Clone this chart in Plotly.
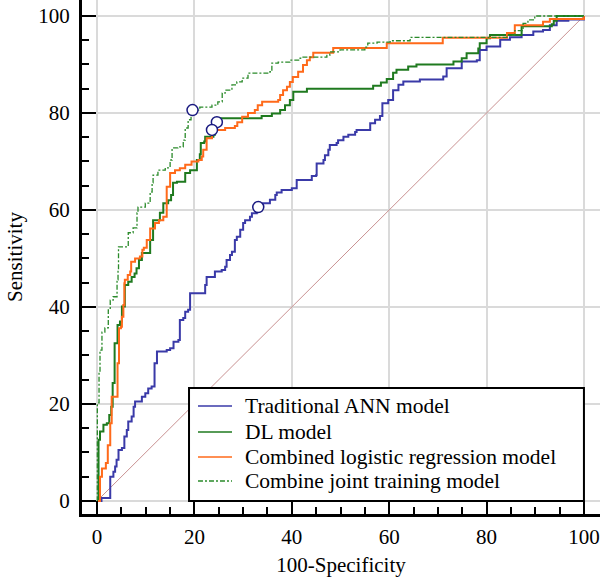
import plotly.graph_objects as go

# ---- data ----
ann_x = [0, 0.9, 2.7, 3.35, 3.7, 4.0, 4.4, 5.1, 5.6, 6.1, 6.4, 7.1, 7.5, 7.8, 9.2, 9.9, 10.5, 11.2, 11.8, 12.3,
         14.3, 15.0, 15.7, 16.7, 17.0, 17.7, 18.1, 18.7, 19.1, 22.2, 22.5, 24.2, 25.6, 26.3, 26.6, 27.3, 27.7,
         28.3, 28.7, 29.4, 30.0, 30.4, 31.4, 31.8, 32.8, 33.1, 34.1, 35.5, 36.6, 36.9, 37.9, 40.0, 41.0, 44.1,
         45.0, 45.1, 46.5, 46.8, 47.5, 47.8, 49.2, 49.5, 50.6, 51.6, 53.0, 53.3, 56.1, 57.1, 58.1, 58.6, 59.8,
         60.8, 61.9, 62.9, 66.3, 71.1, 71.8, 74.9, 78.0, 78.6, 80.0, 82.8, 84.8, 87.2, 89.6, 91.6, 93.0, 94.4,
         96.8, 100]
ann_y = [0, 0.6, 5.0, 6.0, 7.1, 8.5, 10.5, 10.9, 13.3, 14.6, 16.4, 17.4, 19.4, 20.5, 21.5, 22.2, 23.2, 23.6, 28.4,
         30.8, 31.1, 31.5, 32.8, 33.2, 37.3, 37.7, 39.0, 39.4, 42.8, 44.5, 46.2, 47.3, 47.6, 48.3, 49.7, 50.7,
         51.4, 53.8, 54.5, 55.9, 57.3, 57.9, 58.6, 59.3, 59.6, 60.7, 61.4, 62.1, 63.1, 63.6, 64.1, 64.5, 66.2,
         67.0, 67.2, 69.6, 70.3, 71.3, 72.4, 73.4, 73.8, 74.4, 75.1, 75.5, 76.1, 76.5, 77.9, 78.6, 79.4, 82.0,
         82.7, 84.7, 85.8, 86.5, 86.9, 87.5, 89.2, 90.6, 90.9, 93.0, 93.7, 95.1, 95.6, 96.1, 96.8, 97.1, 98.1,
         99.0, 99.3, 100]

dl_x = [0, 0.3, 0.6, 1.3, 2.0, 2.5, 2.9, 3.2, 3.6, 4.2, 4.7, 5.1, 5.7, 6.4, 7.1, 7.7, 8.1, 8.6, 9.2, 10.9, 11.5,
        12.9, 13.6, 14.6, 15.2, 15.6, 16.4, 18.1, 19.1, 20.5, 21.1, 21.3, 22.0, 22.2, 23.9, 24.2, 24.6, 33.8,
        35.9, 37.6, 38.6, 39.6, 40.3, 43.1, 56.7, 58.3, 59.5, 60.8, 61.5, 63.9, 65.6, 73.2, 74.9, 75.9, 78.3,
        78.6, 80.0, 80.7, 87.2, 93.4, 93.8, 94.4, 100]
dl_y = [0, 12.6, 14.3, 15.7, 16.0, 17.7, 19.4, 24.3, 32.5, 36.3, 37.0, 40.1, 44.5, 45.2, 46.2, 46.9, 48.0, 49.7,
        51.1, 53.8, 57.9, 59.4, 61.4, 62.0, 63.1, 65.6, 65.8, 67.6, 68.2, 70.3, 71.5, 73.8, 74.1, 75.1, 75.5,
        77.2, 78.9, 79.4, 79.9, 80.6, 81.6, 82.7, 84.4, 85.0, 85.6, 86.3, 87.0, 88.3, 88.9, 89.6, 90.0, 90.6,
        91.3, 92.3, 93.3, 94.4, 95.4, 96.1, 97.9, 98.3, 99.0, 100, 100]

lr_x = [0, 0.6, 1.0, 1.8, 2.2, 2.7, 3.0, 4.2, 4.5, 4.9, 5.1, 5.4, 5.6, 5.7, 6.3, 6.8, 7.0, 7.8, 8.8, 9.3, 9.6,
        10.2, 10.9, 11.9, 12.7, 13.6, 14.3, 15.0, 16.0, 17.0, 18.1, 19.4, 20.8, 21.5, 21.8, 22.5, 23.6, 26.3,
        28.3, 28.8, 29.8, 31.0, 32.4, 33.0, 33.9, 37.2, 37.6, 38.2, 39.0, 39.6, 40.2, 41.3, 42.3, 43.1, 43.7,
        44.4, 48.5, 59.5, 71.0, 84.2, 85.8, 91.6, 93.0, 100]
lr_y = [0, 5.0, 6.7, 7.8, 11.5, 16.0, 21.5, 28.4, 35.6, 35.9, 38.0, 40.4, 44.9, 45.6, 46.6, 47.3, 49.3, 50.0,
        50.4, 51.8, 52.2, 53.8, 56.2, 57.3, 57.9, 58.6, 64.8, 67.6, 68.2, 68.6, 69.3, 70.0, 70.3, 71.0, 72.4,
        74.8, 76.5, 76.9, 77.3, 78.1, 79.2, 80.0, 80.6, 81.6, 82.3, 82.7, 83.7, 84.7, 85.4, 86.4, 87.4, 88.5,
        89.9, 90.9, 91.5, 92.4, 93.4, 94.4, 95.5, 96.5, 98.1, 98.8, 99.4, 100]

jt_x = [0, 0.05, 0.4, 0.6, 1.0, 1.6, 2.3, 2.7, 3.3, 4.1, 4.3, 4.4, 6.4, 7.4, 8.2, 8.4, 9.9, 10.9, 11.3, 11.5,
        12.5, 14.0, 15.0, 15.4, 16.6, 17.7, 18.1, 18.7, 19.3, 19.6, 21.1, 23.6, 24.8, 25.7, 26.3, 27.7, 28.7,
        29.8, 31.0, 35.5, 35.9, 37.2, 39.6, 41.7, 42.3, 47.2, 47.8, 49.9, 55.0, 55.6, 57.5, 60.2, 64.3, 84.2,
        85.8, 87.5, 88.5, 89.9, 100]
jt_y = [0, 20.2, 26.6, 31.1, 34.8, 35.7, 39.4, 41.4, 42.1, 45.6, 47.6, 52.4, 55.3, 56.3, 59.4, 60.6, 61.4, 63.7,
        65.6, 67.2, 68.2, 68.7, 70.3, 72.8, 73.0, 74.4, 76.9, 78.6, 80.0, 80.6, 81.2, 81.6, 82.3, 84.1, 84.7,
        85.8, 86.4, 87.2, 88.2, 88.5, 90.3, 90.5, 90.9, 91.3, 91.5, 91.9, 92.6, 93.0, 93.6, 94.4, 94.6, 94.9,
        95.6, 96.0, 97.0, 98.5, 99.2, 100, 100]

# operating points (open circles)
cut_x = [33.1, 24.6, 23.6, 19.6]
cut_y = [60.6, 78.1, 76.5, 80.6]

names = ["Traditional ANN model", "DL model", "Combined logistic regression model",
         "Combine joint training model"]
colors = ["#3a3aa8", "#1f7a1f", "#ff6a1a", "#2a8a2a"]
widths = [2, 2, 2, 1.3]
dashes = ["solid", "solid", "solid", "5px,2px,2px,2px"]
tick_vals = [0, 20, 40, 60, 80, 100]

FONT = "Liberation Serif"

fig = go.Figure()
# reference diagonal
fig.add_trace(go.Scatter(x=[0, 100], y=[0, 100], mode="lines",
                         line=dict(color="#c99292", width=1), showlegend=False, hoverinfo="skip"))
for xs, ys, nm, c, w, d in zip([ann_x, dl_x, lr_x, jt_x], [ann_y, dl_y, lr_y, jt_y],
                               names, colors, widths, dashes):
    fig.add_trace(go.Scatter(x=xs, y=ys, mode="lines", name=nm, line_shape="hv",
                             line=dict(color=c, width=w, dash=d), showlegend=False))
fig.add_trace(go.Scatter(x=cut_x, y=cut_y, mode="markers", showlegend=False, hoverinfo="skip",
                         marker=dict(symbol="circle", size=11, color="white",
                                     line=dict(color="#1a1a80", width=1.5))))

def axis(rng, title, tlen, standoff, lstand):
    return dict(
        range=rng, autorange=False, automargin=False,
        tickvals=tick_vals, ticks="inside", ticklen=tlen, tickwidth=2, tickcolor="black",
        showline=True, linewidth=3, linecolor="black", mirror=False,
        showgrid=True, gridcolor="#dadada", gridwidth=1.5, zeroline=False,
        minor=dict(dtick=5, tick0=0, ticks="inside", ticklen=7, tickwidth=2, tickcolor="black",
                   showgrid=False),
        tickfont=dict(family=FONT, size=21, color="black"),
        ticklabelstandoff=lstand,
        title=dict(text=title, font=dict(family=FONT, size=21, color="black"), standoff=standoff),
    )

# ---- hand-built legend box (paper coordinates of the plot area) ----
L_X0, L_X1, L_Y0, L_Y1 = 0.2066, 0.969, 0.0253, 0.2451
row_y = [0.2101, 0.1595, 0.1109, 0.0642]
shapes = [dict(type="rect", xref="paper", yref="paper", x0=L_X0, x1=L_X1, y0=L_Y0, y1=L_Y1,
               line=dict(color="black", width=2), fillcolor="white", layer="above")]
annotations = []
for ry, nm, c, d in zip(row_y, names, colors, dashes):
    shapes.append(dict(type="line", xref="paper", yref="paper", x0=0.2239, x1=0.2896, y0=ry, y1=ry,
                       line=dict(color=c, width=1.5, dash=d), layer="above"))
    annotations.append(dict(xref="paper", yref="paper", x=0.3108, y=ry, text=nm, showarrow=False,
                            xanchor="left", yanchor="middle",
                            font=dict(family=FONT, size=21.5, color="black")))

fig.update_layout(
    width=600, height=577,
    margin=dict(l=82, r=0, t=0, b=63, autoexpand=False),
    paper_bgcolor="white", plot_bgcolor="white",
    font=dict(family=FONT, size=21, color="black"),
    xaxis=axis([-3.1, 103.3], "100-Specificity", 13, 14, 2),
    yaxis=axis([-2.7, 103.3], "Sensitivity", 14, 10, 5),
    shapes=shapes, annotations=annotations,
    showlegend=False,
)

fig.write_html("out.html", config={"displayModeBar": False},
               post_script="document.body.style.margin='0px';")
